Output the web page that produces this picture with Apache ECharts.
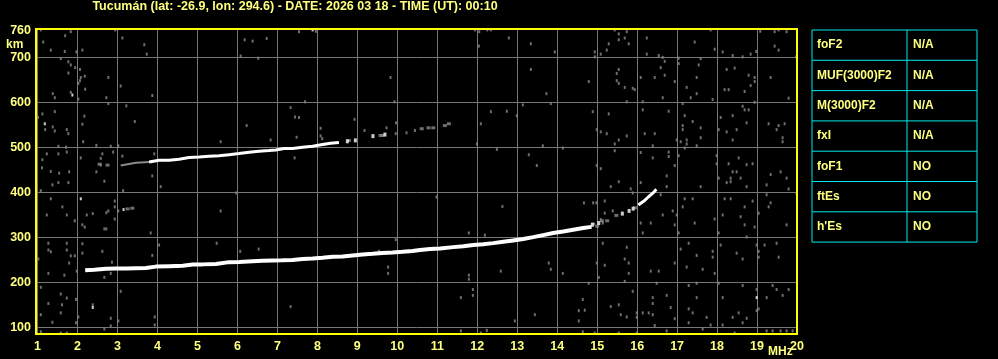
<!DOCTYPE html>
<html><head><meta charset="utf-8">
<script src="https://cdn.jsdelivr.net/npm/echarts@6/dist/echarts.min.js"></script>
<style>html,body{margin:0;padding:0;background:#000;}#c{width:998px;height:359px;}</style>
</head><body><div id="c"></div>
<script>
const titleText = 'Tucumán (lat: -26.9, lon: 294.6) - DATE: 2026 03 18 - TIME (UT): 00:10';
const freqTicks = [1,2,3,4,5,6,7,8,9,10,11,12,13,14,15,16,17,18,19,20];
const heightGrid = [100,200,300,400,500,600,700];
const heightLabels = [100,200,300,400,500,600,700,760];
const tableRows = [['foF2','N/A'],['MUF(3000)F2','N/A'],['M(3000)F2','N/A'],['fxI','N/A'],['foF1','NO'],['ftEs','NO'],["h'Es",'NO']];

// F-layer trace (MHz, km)
const lowerTrace = [[2.19,227],[2.42,228],[2.71,230],[2.96,231],[3.21,231],[3.46,231.5],[3.71,232],[3.96,235],[4.29,236],[4.63,237],[4.88,239.5],[5.13,240],[5.46,241],[5.79,245],[6.04,245.5],[6.38,247],[6.63,248],[6.88,248.5],[7.13,249],[7.38,250],[7.63,252],[7.88,253],[8.13,254.5],[8.38,257],[8.63,257.5],[8.88,260],[9.13,262],[9.38,263.5],[9.63,265.5],[9.88,266.5],[10.13,268],[10.38,270],[10.57,272],[10.82,274],[11.07,275.4],[11.4,278.4],[11.65,280.6],[11.9,283],[12.15,285],[12.4,287.3],[12.65,290.3],[12.9,293.3],[13.15,296.3],[13.4,300.7],[13.65,305.2],[13.9,309.7],[14.15,313.4],[14.4,317.2],[14.65,320.9],[14.86,323.5]];
const cuspTrace = [[16.03,372],[16.17,381],[16.28,390],[16.4,399],[16.48,407]];
const cuspSpecks = [[14.88,328],[15.04,332],[15.63,353],[15.8,359],[15.9,364]];
const cuspFaint = [[15.12,337],[15.25,337],[15.48,349],[15.95,366],[14.9,330],[15.0,325]];
// second-hop trace
const upperFaint = [[3.08,460],[3.46,466],[3.79,468]];
const upperTrace = [[3.79,468],[4.04,472],[4.29,471.6],[4.54,474],[4.79,478],[5.04,479],[5.29,480.6],[5.54,482],[5.79,484.3],[6.04,486.6],[6.29,489.6],[6.54,491.8],[6.79,493.3],[6.96,494.8],[7.17,497.8],[7.38,497.8],[7.63,500.7],[7.88,503],[8.13,506.7],[8.33,509.7],[8.54,511.2]];
const upperSpecks = [[9.39,525.5],[9.69,529],[8.75,514],[8.95,516]];
const upperSpecksFaint = [[8.79,515.7],[9.58,527],[9.62,527],[10.61,542],[10.78,544],[10.9,544],[11.19,549],[11.29,553],[2.55,463],[2.75,461],[3.25,363.5],[3.37,365]];
const whiteSpecks = [[1.87,617],[1.18,553],[7.88,762],[2.08,386],[3.15,362],[2.38,144],[18.99,166]];

const noiseUpperLeft = [[1.08,762],[1.83,758],[2.94,762],[1.69,749],[1.14,735],[1.33,717],[1.68,714],[1.97,713],[2.12,717],[3.12,744],[3.67,729],[3.73,708],[1.58,698],[1.77,691],[1.83,684],[1.94,678],[2.06,674],[2.18,659],[2.08,656],[2.06,649],[2.02,643],[2.19,630],[1.77,666],[2.77,656],[3.08,637],[1.83,623],[1.38,620],[1.43,611],[2.72,611],[2.77,598],[2.02,608],[3.87,616],[3.22,593],[0.98,656],[2.17,570],[2.12,552],[1.01,567],[1.12,575],[1.43,580],[1.38,546],[1.43,537],[1.73,540],[1.77,531],[1.19,540],[3.43,558],[2.47,505],[2.83,503],[3.02,504],[1.52,503],[1.71,501],[2.14,513],[1.23,486],[1.52,486],[1.73,490],[2.08,477],[2.62,486],[2.58,476],[2.89,490],[1.12,473],[1.11,455],[1.33,447],[1.54,443],[1.79,446],[2.47,446],[2.58,461],[3.87,437],[3.12,481],[3.92,486],[6.18,740],[6.38,737],[6.73,743],[6.08,704],[6.52,699],[7.54,758],[7.96,759],[7.69,602],[7.33,589],[7.44,568],[7.54,567],[6.23,549],[8.08,543],[8.08,526],[8.12,520],[7.48,523],[6.83,517],[5.58,513],[7.43,477],[8.93,563],[9.83,656],[9.93,602],[9.97,555],[9.73,544],[9.18,538],[9.96,531],[10.23,533],[10.44,538]];
const noiseUpperRight = [[11.94,762],[12.05,758],[12.25,762],[12.34,762],[12.79,744],[12.04,726],[13.34,731],[13.94,713],[15.44,762],[15.54,753],[15.74,758],[15.69,744],[15.54,740],[15.29,731],[15.79,731],[15.24,717],[15.09,708],[14.94,713],[14.94,702],[16.24,744],[16.24,708],[16.54,705],[16.64,701],[16.69,692],[16.59,678],[16.44,656],[16.69,661],[16.09,656],[16.94,647],[15.54,674],[15.49,665],[15.49,649],[15.54,643],[15.69,634],[15.89,632],[15.94,629],[15.74,602],[16.14,602],[16.64,611],[17.04,699],[17.04,687],[17.59,698],[17.54,684],[17.49,656],[17.24,634],[17.49,620],[17.34,611],[17.89,607],[17.44,735],[17.84,762],[17.94,719],[18.14,713],[18.39,705],[18.64,702],[18.84,708],[18.98,714],[19.08,759],[19.44,758],[19.54,762],[19.74,758],[19.44,726],[19.54,717],[18.24,674],[18.44,677],[18.79,661],[18.94,656],[18.94,647],[18.84,638],[19.34,656],[18.69,625],[18.19,629],[18.29,629],[18.94,601],[19.79,610],[19.98,702],[13.34,674],[14.79,647],[13.73,620],[13.84,598],[13.14,595],[12.34,580],[12.74,581],[12.99,571],[12.09,553],[14.89,580],[15.29,575],[16.14,584],[16.79,581],[17.14,598],[17.19,571],[17.39,558],[17.14,549],[17.14,540],[17.59,544],[17.59,522],[17.24,517],[17.24,508],[17.09,513],[16.99,517],[17.49,504],[17.19,499],[16.39,504],[16.19,531],[16.44,531],[15.74,526],[15.54,517],[15.44,508],[15.44,493],[15.09,535],[15.24,531],[14.99,540],[11.99,508],[12.49,496],[13.64,504],[14.14,499],[13.29,484],[13.49,460],[14.99,460],[15.09,453],[16.09,489],[16.39,477],[16.79,490],[16.79,480],[16.94,460],[16.74,437],[17.04,482],[17.99,482],[17.99,464],[18.29,464],[18.54,477],[18.74,462],[18.89,464],[18.39,446],[18.49,446],[18.34,432],[18.59,432],[19.34,440],[19.59,446],[19.74,432],[18.04,432],[18.64,592],[18.69,584],[18.79,584],[18.74,555],[18.39,571],[18.09,567],[18.04,540],[18.24,535],[18.49,540],[18.39,517],[19.29,553],[19.54,549],[19.49,540],[19.69,553],[19.64,522],[19.64,513]];
const noiseLowerLeft = [[1.08,404],[1.37,417],[1.52,422],[1.77,422],[2.67,425],[3.14,404],[4.08,413],[5.97,399],[1.33,386],[1.62,368],[1.23,350],[1.73,350],[2.23,350],[2.38,353],[2.72,355],[2.77,359],[2.93,368],[2.93,381],[3.02,359],[2.93,341],[1.93,337],[2.12,328],[2.18,323],[2.67,319],[2.72,319],[3.83,310],[5.58,359],[1.27,287],[1.73,287],[2.12,286],[1.27,272],[1.33,268],[1.73,272],[1.93,259],[1.83,259],[1.79,243],[1.02,252],[2.12,265],[2.62,269],[3.87,260],[4.04,283],[5.48,287],[6.07,269],[6.53,274],[9.54,269],[9.77,234],[9.77,220],[1.27,220],[1.67,216],[1.98,225],[2.67,211],[2.83,220],[2.86,245],[3.08,180],[1.08,189],[1.58,174],[1.73,165],[1.96,162],[1.27,153],[1.61,150],[2.38,150],[1.58,132],[1.08,128],[2.02,123],[2.83,120],[3.02,114],[3.93,123],[3.93,105],[1.37,111],[1.96,110],[2.67,96],[2.83,103],[1.08,90],[1.58,87],[1.73,87],[7.33,146],[9.96,295]];
const noiseLowerRight = [[10.98,390],[12.63,369],[11.79,310],[12.19,305],[14.67,377],[14.9,377],[14.98,377],[15.19,381],[15.34,413],[15.54,424],[15.84,408],[15.89,399],[16.09,422],[16.74,413],[17.59,413],[18.24,422],[18.34,424],[18.74,413],[19.24,417],[19.24,395],[19.79,408],[19.99,398],[16.59,395],[17.19,386],[17.39,386],[18.19,386],[18.34,386],[18.89,381],[19.34,377],[19.29,368],[18.69,368],[17.14,368],[16.89,359],[16.99,350],[16.64,350],[15.39,359],[15.19,354],[15.09,340],[15.14,332],[16.09,332],[16.34,332],[16.94,328],[17.44,332],[17.94,341],[18.14,350],[18.59,346],[19.04,354],[18.69,328],[18.94,323],[19.74,328],[17.04,310],[16.14,310],[18.04,310],[18.74,301],[19.49,287],[19.04,269],[19.04,256],[18.49,265],[18.64,252],[18.99,283],[19.19,283],[19.54,256],[18.09,283],[17.89,269],[17.29,287],[17.09,274],[17.49,260],[17.89,256],[15.14,287],[15.74,278],[15.69,252],[15.79,243],[14.99,243],[15.19,238],[16.94,243],[17.24,234],[17.64,229],[16.34,225],[16.54,225],[15.79,220],[17.94,220],[15.04,211],[15.69,202],[16.49,198],[17.29,193],[17.49,198],[18.04,198],[18.64,193],[18.99,184],[19.39,193],[19.49,184],[19.79,184],[19.64,171],[19.24,166],[18.14,166],[17.49,166],[16.39,166],[16.39,153],[16.74,171],[15.89,180],[15.34,146],[15.54,150],[15.59,128],[15.74,123],[15.99,132],[15.99,122],[16.14,132],[16.29,132],[16.39,128],[16.84,144],[16.94,119],[17.29,141],[17.39,132],[17.74,122],[17.84,105],[18.14,105],[18.39,122],[18.54,132],[18.74,120],[18.99,137],[19.04,141],[18.64,110],[17.29,110],[16.44,104],[16.74,92],[17.64,96],[18.44,87],[19.24,92],[19.39,92],[19.59,92],[19.74,92],[19.89,92],[14.64,162],[14.69,138],[14.54,137],[14.54,114],[13.44,128],[12.94,114],[11.89,184],[11.89,171],[11.59,166],[11.79,216],[11.79,207],[12.59,225],[13.79,243],[13.84,229],[14.14,220],[14.79,198],[11.59,92],[12.09,87],[12.24,93],[14.64,90],[14.94,87],[15.54,87],[15.99,87]];

const chart = echarts.init(document.getElementById('c'), null, {renderer:'canvas'});
const LBL = '#ffff80', GRID = '#777777', NOISE = '#8a8a8a';
const FONT = 'Liberation Sans';
function noise(d){return {type:'scatter',data:d,symbol:'rect',symbolSize:[2,3],itemStyle:{color:NOISE},silent:true,z:2};}
function whiteDots(d,size){return {type:'scatter',data:d,symbol:'rect',symbolSize:size,itemStyle:{color:'#fff'},silent:true,z:4};}
function line(d,w,c){return {type:'line',data:d,symbol:'none',lineStyle:{color:c,width:w},silent:true,z:3};}

const tableLeft = 812, tableMid = 907, tableRight = 977, tableTop = 30, rowH = 30.3;
const graphics = [];
graphics.push({type:'rect',shape:{x:tableLeft,y:tableTop,width:tableRight-tableLeft,height:rowH*tableRows.length},style:{fill:'none',stroke:'#00e8e8',lineWidth:1}});
graphics.push({type:'line',shape:{x1:tableMid,y1:tableTop,x2:tableMid,y2:tableTop+rowH*tableRows.length},style:{stroke:'#00e8e8',lineWidth:1}});
tableRows.forEach((r,i)=>{
  if(i>0) graphics.push({type:'line',shape:{x1:tableLeft,y1:tableTop+rowH*i,x2:tableRight,y2:tableTop+rowH*i},style:{stroke:'#00e8e8',lineWidth:1}});
  const cy = tableTop+rowH*i+rowH/2;
  graphics.push({type:'text',x:817,y:cy,style:{text:r[0],fill:LBL,font:'bold 12px '+FONT,verticalAlign:'middle'}});
  graphics.push({type:'text',x:913,y:cy,style:{text:r[1],fill:LBL,font:'bold 12px '+FONT,verticalAlign:'middle'}});
});
graphics.push({type:'text',x:295,y:7,style:{text:titleText,fill:LBL,font:'bold 12.5px '+FONT,align:'center',verticalAlign:'middle'}});
graphics.push({type:'text',x:6,y:45,style:{text:'km',fill:LBL,font:'bold 12px '+FONT,verticalAlign:'middle'}});
graphics.push({type:'text',x:768,y:352,style:{text:'MHz',fill:LBL,font:'bold 12px '+FONT,verticalAlign:'middle'}});

chart.setOption({
  backgroundColor:'#000',
  animation:false,
  grid:{left:36,right:201,top:29,bottom:25,show:true,borderColor:'#ffff00',borderWidth:2,backgroundColor:'transparent',z:5},
  xAxis:{type:'value',min:0.96,max:20,
    axisLine:{show:false},
    axisTick:{show:false,customValues:freqTicks},
    splitLine:{show:true,lineStyle:{color:GRID,width:1}},
    axisLabel:{customValues:freqTicks,color:LBL,fontFamily:FONT,fontWeight:'bold',fontSize:12.5,margin:6}},
  yAxis:{type:'value',min:85,max:764,
    axisLine:{show:false},
    axisTick:{show:false,customValues:heightGrid},
    splitLine:{show:true,lineStyle:{color:GRID,width:1}},
    axisLabel:{customValues:heightLabels,color:LBL,fontFamily:FONT,fontWeight:'bold',fontSize:12.5,margin:5}},
  graphic:graphics,
  series:[
    noise(noiseUpperLeft),noise(noiseUpperRight),noise(noiseLowerLeft),noise(noiseLowerRight),
    {type:'scatter',data:upperSpecksFaint,symbol:'rect',symbolSize:[4,3],itemStyle:{color:NOISE},silent:true,z:2},
    {type:'scatter',data:cuspFaint,symbol:'rect',symbolSize:[4,3],itemStyle:{color:NOISE},silent:true,z:2},
    line(upperFaint,2,NOISE),
    line(lowerTrace,4,'#fff'),
    line(upperTrace,3,'#fff'),
    line(cuspTrace,3,'#fff'),
    whiteDots(cuspSpecks,[3,4]),
    whiteDots(upperSpecks,[3,4]),
    whiteDots(whiteSpecks,[2,3])
  ]
});
</script></body></html>
